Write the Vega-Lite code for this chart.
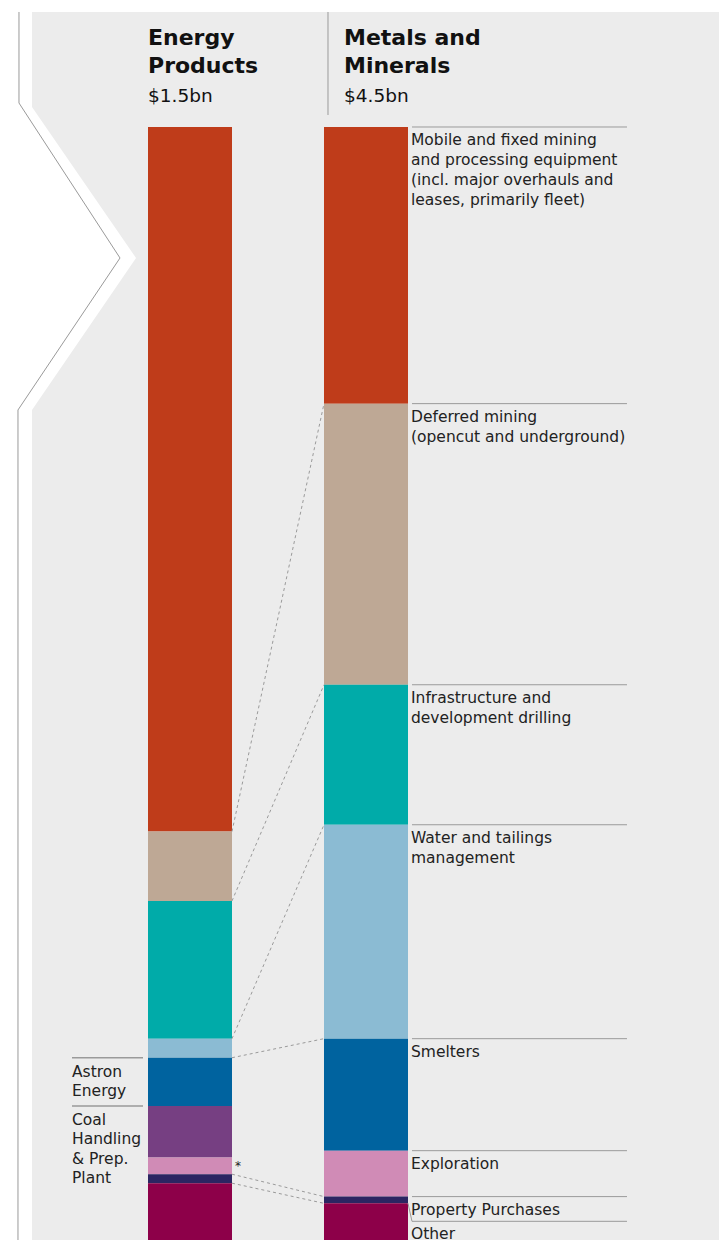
{
  "$schema": "https://vega.github.io/schema/vega-lite/v6.json",
  "width": 719,
  "height": 1240,
  "autosize": {"type": "none"},
  "padding": 0,
  "background": "#ffffff",
  "config": {"view": {"stroke": null}, "text": {"font": "DejaVu Sans"}},
  "datasets": {
    "segments": [
      {"cat": "Energy", "rank": 1, "key": "Mobile", "share": 62.9},
      {"cat": "Energy", "rank": 2, "key": "Deferred", "share": 6.2},
      {"cat": "Energy", "rank": 3, "key": "Infra", "share": 12.3},
      {"cat": "Energy", "rank": 4, "key": "Water", "share": 1.7},
      {"cat": "Energy", "rank": 5, "key": "Smelters", "share": 4.3, "label": "Astron\nEnergy"},
      {"cat": "Energy", "rank": 6, "key": "Coal", "share": 4.6, "label": "Coal\nHandling\n& Prep.\nPlant"},
      {"cat": "Energy", "rank": 7, "key": "Exploration", "share": 1.5, "note": "*"},
      {"cat": "Energy", "rank": 8, "key": "Property", "share": 0.8},
      {"cat": "Energy", "rank": 9, "key": "Other", "share": 5.7},
      {"cat": "Metals", "rank": 1, "key": "Mobile", "share": 24.7, "label": "Mobile and fixed mining\nand processing equipment\n(incl. major overhauls and\nleases, primarily fleet)"},
      {"cat": "Metals", "rank": 2, "key": "Deferred", "share": 25.1, "label": "Deferred mining\n(opencut and underground)"},
      {"cat": "Metals", "rank": 3, "key": "Infra", "share": 12.5, "label": "Infrastructure and\ndevelopment drilling"},
      {"cat": "Metals", "rank": 4, "key": "Water", "share": 19.1, "label": "Water and tailings\nmanagement"},
      {"cat": "Metals", "rank": 5, "key": "Smelters", "share": 10.0, "label": "Smelters"},
      {"cat": "Metals", "rank": 6, "key": "Exploration", "share": 4.1, "label": "Exploration"},
      {"cat": "Metals", "rank": 7, "key": "Property", "share": 0.6, "label": "Property Purchases"},
      {"cat": "Metals", "rank": 8, "key": "Other", "share": 3.8, "label": "Other"}
    ],
    "totals": [
      {"cat": "Energy", "name": "Energy\nProducts", "total": "$1.5bn"},
      {"cat": "Metals", "name": "Metals and\nMinerals", "total": "$4.5bn"}
    ],
    "frame": [
      {"fy": -10.268, "fx": 4.45},
      {"fy": -1.786, "fx": 4.45},
      {"fy": 11.696, "fx": 18.92},
      {"fy": 25.268, "fx": 4.45},
      {"fy": 100, "fx": 4.45}
    ],
    "outline": [
      {"fy": -10.268, "fx": 2.64},
      {"fy": -2.143, "fx": 2.64},
      {"fy": 11.696, "fx": 16.69},
      {"fy": 25.268, "fx": 2.5},
      {"fy": 100, "fx": 2.5}
    ]
  },
  "resolve": {"scale": {"x": "independent"}},
  "layer": [
    {
      "layer": [
        {
          "data": {"name": "frame"},
          "mark": {"type": "area", "orient": "horizontal", "color": "#ececec", "clip": true},
          "encoding": {
            "y": {"field": "fy", "type": "quantitative", "scale": {"domain": [-11.339, 99.375], "reverse": true, "nice": false, "zero": false}, "axis": null},
            "x": {"field": "fx", "type": "quantitative", "scale": {"domain": [0, 100], "nice": false, "zero": false}, "axis": null},
            "x2": {"datum": 100}
          }
        },
        {
          "data": {"name": "outline"},
          "mark": {"type": "line", "orient": "vertical", "color": "#9a9a9a", "strokeWidth": 1, "clip": true},
          "encoding": {
            "y": {"field": "fy", "type": "quantitative", "axis": null},
            "x": {"field": "fx", "type": "quantitative", "axis": null},
            "order": {"field": "fy"}
          }
        }
      ]
    },
    {
      "data": {"name": "segments"},
      "transform": [
        {"stack": "share", "groupby": ["cat"], "sort": [{"field": "rank", "order": "ascending"}], "as": ["y0", "y1"]}
      ],
      "layer": [
        {
          "mark": {"type": "rect", "clip": true},
          "encoding": {
            "x": {"field": "cat", "type": "nominal", "axis": null, "scale": {"domain": ["Energy", "Metals"], "range": [148, 408], "paddingInner": 0.5227, "paddingOuter": 0}},
            "y": {"field": "y0", "type": "quantitative", "axis": null},
            "y2": {"field": "y1"},
            "color": {
              "field": "key", "type": "nominal", "legend": null,
              "scale": {
                "domain": ["Mobile", "Deferred", "Infra", "Water", "Smelters", "Coal", "Exploration", "Property", "Other"],
                "range": ["#bf3c1a", "#bea895", "#00aba9", "#8bbbd3", "#00639f", "#763f82", "#d08bb6", "#2c2562", "#8d0049"]
              }
            }
          }
        },
        {
          "transform": [
            {"filter": {"field": "key", "oneOf": ["Deferred", "Infra", "Water", "Smelters", "Property", "Other"]}},
            {"pivot": "cat", "value": "y0", "groupby": ["key"]}
          ],
          "mark": {"type": "rule", "color": "#9a9a9a", "strokeWidth": 1, "strokeDash": [3, 3], "xOffset": 42, "x2Offset": -42},
          "encoding": {
            "x": {"datum": "Energy", "type": "nominal"},
            "x2": {"datum": "Metals"},
            "y": {"field": "Energy", "type": "quantitative"},
            "y2": {"field": "Metals"}
          }
        },
        {
          "transform": [{"filter": "datum.cat === 'Metals' && datum.key !== 'Other'"}],
          "mark": {"type": "rule", "color": "#9a9a9a", "strokeWidth": 1, "xOffset": 46, "x2Offset": 261},
          "encoding": {
            "x": {"datum": "Metals", "type": "nominal"},
            "x2": {"datum": "Metals"},
            "y": {"field": "y0", "type": "quantitative"}
          }
        },
        {
          "transform": [{"filter": "datum.cat === 'Metals' && datum.key !== 'Other'"}],
          "mark": {"type": "text", "align": "left", "baseline": "alphabetic", "dx": 45, "dy": 18, "fontSize": 15.5, "lineHeight": 20, "lineBreak": "\n", "color": "#222222"},
          "encoding": {
            "x": {"datum": "Metals", "type": "nominal"},
            "y": {"field": "y0", "type": "quantitative"},
            "text": {"field": "label"}
          }
        },
        {
          "transform": [{"filter": "datum.cat === 'Metals' && datum.key === 'Other'"}],
          "mark": {"type": "rule", "color": "#9a9a9a", "strokeWidth": 1, "xOffset": 46, "x2Offset": 261, "yOffset": 18},
          "encoding": {
            "x": {"datum": "Metals", "type": "nominal"},
            "x2": {"datum": "Metals"},
            "y": {"field": "y0", "type": "quantitative"}
          }
        },
        {
          "transform": [{"filter": "datum.cat === 'Metals' && datum.key === 'Other'"}],
          "mark": {"type": "rule", "color": "#9a9a9a", "strokeWidth": 1, "xOffset": 42, "x2Offset": 46, "y2Offset": 18},
          "encoding": {
            "x": {"datum": "Metals", "type": "nominal"},
            "x2": {"datum": "Metals"},
            "y": {"field": "y0", "type": "quantitative"},
            "y2": {"field": "y0"}
          }
        },
        {
          "transform": [{"filter": "datum.cat === 'Metals' && datum.key === 'Other'"}],
          "mark": {"type": "text", "align": "left", "baseline": "alphabetic", "dx": 45, "dy": 36, "fontSize": 15.5, "color": "#222222"},
          "encoding": {
            "x": {"datum": "Metals", "type": "nominal"},
            "y": {"field": "y0", "type": "quantitative"},
            "text": {"field": "label"}
          }
        },
        {
          "transform": [{"filter": "datum.cat === 'Energy' && isValid(datum.label)"}],
          "mark": {"type": "rule", "color": "#9a9a9a", "strokeWidth": 1.5, "xOffset": -118, "x2Offset": -47},
          "encoding": {
            "x": {"datum": "Energy", "type": "nominal"},
            "x2": {"datum": "Energy"},
            "y": {"field": "y0", "type": "quantitative"}
          }
        },
        {
          "transform": [{"filter": "datum.cat === 'Energy' && isValid(datum.label)"}],
          "mark": {"type": "text", "align": "left", "baseline": "alphabetic", "dx": -118, "dy": 19, "fontSize": 15.5, "lineHeight": 19.5, "lineBreak": "\n", "color": "#222222"},
          "encoding": {
            "x": {"datum": "Energy", "type": "nominal"},
            "y": {"field": "y0", "type": "quantitative"},
            "text": {"field": "label"}
          }
        },
        {
          "transform": [{"filter": "isValid(datum.note)"}],
          "mark": {"type": "text", "align": "center", "baseline": "alphabetic", "dx": 48, "dy": 13, "fontSize": 12, "color": "#222222"},
          "encoding": {
            "x": {"datum": "Energy", "type": "nominal"},
            "y": {"field": "y0", "type": "quantitative"},
            "text": {"field": "note"}
          }
        },
        {
          "data": {"name": "totals"},
          "transform": [{"filter": "datum.cat === 'Energy'"}],
          "layer": [
            {
              "mark": {"type": "text", "align": "left", "baseline": "alphabetic", "dx": -42, "dy": -82, "fontSize": 22, "fontWeight": "bold", "lineHeight": 28, "lineBreak": "\n", "color": "#111111"},
              "encoding": {"x": {"field": "cat", "type": "nominal"}, "y": {"datum": 0}, "text": {"field": "name"}}
            },
            {
              "mark": {"type": "text", "align": "left", "baseline": "alphabetic", "dx": -42, "dy": -25, "fontSize": 18.5, "color": "#111111"},
              "encoding": {"x": {"field": "cat", "type": "nominal"}, "y": {"datum": 0}, "text": {"field": "total"}}
            }
          ]
        },
        {
          "data": {"name": "totals"},
          "transform": [{"filter": "datum.cat === 'Metals'"}],
          "layer": [
            {
              "mark": {"type": "rule", "color": "#9a9a9a", "strokeWidth": 1, "xOffset": -38, "yOffset": -115, "y2Offset": -12},
              "encoding": {"x": {"field": "cat", "type": "nominal"}, "y": {"datum": 0}, "y2": {"datum": 0}}
            },
            {
              "mark": {"type": "text", "align": "left", "baseline": "alphabetic", "dx": -22, "dy": -82, "fontSize": 22, "fontWeight": "bold", "lineHeight": 28, "lineBreak": "\n", "color": "#111111"},
              "encoding": {"x": {"field": "cat", "type": "nominal"}, "y": {"datum": 0}, "text": {"field": "name"}}
            },
            {
              "mark": {"type": "text", "align": "left", "baseline": "alphabetic", "dx": -22, "dy": -25, "fontSize": 18.5, "color": "#111111"},
              "encoding": {"x": {"field": "cat", "type": "nominal"}, "y": {"datum": 0}, "text": {"field": "total"}}
            }
          ]
        }
      ]
    }
  ]
}
